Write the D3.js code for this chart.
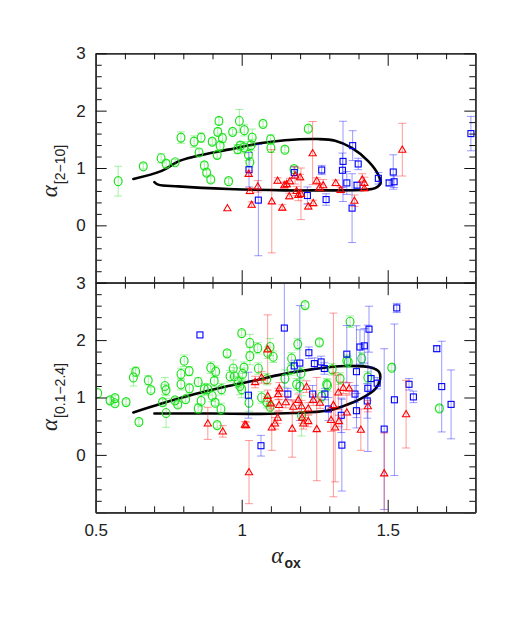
<!DOCTYPE html>
<html>
<head>
<meta charset="utf-8">
<script src="https://cdn.jsdelivr.net/npm/d3@7"></script>
<style>
  body { margin: 0; background: #fff; }
  svg { display: block; }
  .tick text { font-family: "Liberation Sans", Arial, sans-serif; font-size: 17px; fill: #222; }
</style>
</head>
<body>
<div id="chart"></div>
<script>

// [alpha_ox, alpha, error]
var topGreen = [
  [0.577,0.77,0.26],[0.663,1.03,0.05],[0.724,1.17,0.08],[0.741,1.075,0.06],[0.772,1.10,0.05],
  [0.792,1.53,0.1],[0.837,1.46,0.1],[0.861,1.53,0.08],[0.854,1.27,0.06],[0.872,1.045,0.06],
  [0.880,0.92,0.05],[0.894,0.80,0.05],[0.899,1.46,0.05],[0.922,1.82,0.06],[0.918,1.63,0.06],
  [0.934,1.52,0.08],[0.926,1.39,0.08],[0.916,1.23,0.06],[0.955,0.77,0.05],[0.969,1.63,0.05],
  [0.992,1.82,0.2],[1.009,1.66,0.1],[1.036,1.53,0.15],[0.995,1.39,0.06],[0.986,1.33,0.08],
  [1.008,1.36,0.1],[1.023,1.23,0.1],[1.028,1.10,0.08],[1.032,1.40,0.1],[1.073,1.77,0.05],
  [1.099,1.50,0.08],[1.100,1.35,0.08],[1.148,1.32,0.05],[1.228,1.685,0.05],[1.179,0.98,0.05]
];
var topBlue = [
  [1.025,0.97,0.3],[1.057,0.44,0.97],[1.180,0.92,0.1],[1.225,0.52,0.15],[1.274,0.965,0.08],
  [1.289,0.45,0.1],[1.347,1.115,0.7],[1.345,0.96,0.3],[1.360,0.74,0.2],[1.380,1.39,0.26],
  [1.378,0.30,0.6],[1.399,1.07,0.1],[1.395,0.70,0.05],[1.468,0.82,0.1],[1.505,0.74,0.05],
  [1.519,0.93,0.3],[1.522,0.76,0.1],[1.785,1.60,0.3]
];
var topRed = [
  [0.951,0.30,0],[1.024,0.90,0.05],[1.028,0.60,0.05],[1.034,0.36,0.05],[1.055,0.68,0.1],
  [1.103,0.42,0.9],[1.123,0.78,0.05],[1.139,0.31,0.05],[1.146,0.70,0.05],[1.243,1.26,0.55],
  [1.183,0.87,0.15],[1.200,0.84,0.05],[1.165,0.77,0.05],[1.154,0.72,0.05],[1.188,0.60,0.08],
  [1.194,0.53,0.1],[1.203,0.55,0.45],[1.163,0.51,0.05],[1.228,0.33,0.05],[1.245,0.39,0.05],
  [1.257,0.78,0.05],[1.266,0.66,0.05],[1.279,0.70,0.1],[1.322,0.74,0.05],[1.339,0.62,0.05],
  [1.386,0.43,0.1],[1.413,0.80,0.1],[1.420,0.74,0.1],[1.420,0.65,0.05],[1.550,1.32,0.46]
];
var topModel = [
  [0.629,0.81],[0.726,0.95],[0.783,1.115],[0.840,1.20],[0.954,1.32],[1.068,1.435],[1.148,1.485],
  [1.262,1.505],[1.320,1.475],[1.377,1.35],[1.434,1.115],[1.468,0.88],[1.476,0.74],[1.457,0.65],
  [1.422,0.62],[1.262,0.61],[1.148,0.61],[0.954,0.635],[0.783,0.68],[0.714,0.71],[0.701,0.755]
];

var botGreen = [
  [0.507,1.075,0],[0.549,0.95,0.05],[0.566,0.99,0.05],[0.566,0.90,0.05],[0.604,0.92,0.05],
  [0.629,1.35,0.15],[0.637,1.45,0.08],[0.648,0.575,0.05],[0.680,1.30,0.08],[0.689,1.13,0.05],
  [0.729,0.92,0.05],[0.737,1.20,0.15],[0.741,1.13,0.1],[0.741,0.73,0.25],[0.772,0.95,0.05],
  [0.781,0.88,0.05],[0.792,1.23,0.1],[0.792,1.41,0.1],[0.803,1.64,0.1],[0.820,1.46,0.08],
  [0.808,0.97,0.05],[0.821,1.16,0.08],[0.851,1.27,0.08],[0.851,0.81,0.08],[0.861,0.94,0.1],
  [0.872,1.145,0.1],[0.884,1.145,0.1],[0.894,1.52,0.1],[0.899,1.03,0.1],[0.906,1.29,0.1],
  [0.911,1.45,0.1],[0.909,0.91,0.05],[0.916,0.52,0.05],[0.929,0.80,0.1],[0.931,1.145,0.1],
  [0.950,1.77,0.05],[0.960,1.37,0.1],[0.971,1.505,0.15],[0.975,1.37,0.15],[0.988,1.27,0.1],
  [0.994,1.20,0.15],[1.000,2.12,0.05],[1.003,1.41,0.1],[1.008,1.52,0.1],[1.000,1.145,0.15],
  [1.028,1.95,0.15],[1.025,0.91,0.15],[1.028,1.72,0.15],[1.217,2.61,0.05],[1.055,1.86,0.1],
  [1.097,1.88,0.15],[1.108,1.71,0.1],[1.089,1.78,0.1],[1.057,1.505,0.1],[1.086,1.32,0.1],
  [1.192,1.93,0.1],[1.266,1.96,0.05],[1.371,2.32,0.1],[1.169,1.49,0.1],[1.148,1.33,0.15],
  [1.203,1.42,0.1],[1.188,1.23,0.1],[1.199,1.19,0.1],[1.068,1.00,0.1],[1.097,0.84,0.1],
  [1.086,0.92,0.1],[1.291,1.23,0.1],[1.310,1.49,0.1],[1.337,1.33,0.1],[1.360,1.64,0.1],
  [1.411,1.68,0.1],[1.432,1.35,0.1],[1.274,1.02,0.1],[1.205,0.68,0.35],[1.514,1.52,0.05],
  [1.677,0.81,0.05],[1.365,1.62,0.1],[1.294,1.21,0.1],[1.171,1.68,0.1]
];
var botBlue = [
  [0.857,2.09,0],[1.023,1.04,0.4],[1.066,0.16,0.18],[1.146,2.21,1.1],[1.230,1.78,0.1],
  [1.199,1.60,1.0],[1.180,1.55,0.1],[1.249,1.59,0.1],[1.272,1.62,0.1],[1.283,1.505,0.1],
  [1.158,1.06,0.1],[1.243,1.06,0.15],[1.285,1.06,0.1],[1.297,0.80,0.2],[1.343,0.17,0.8],
  [1.360,1.755,0.5],[1.393,1.45,0.8],[1.405,1.88,0.3],[1.420,1.90,0.3],[1.436,2.19,0.4],
  [1.443,1.33,0.2],[1.430,0.94,0.3],[1.341,0.69,0.3],[1.393,0.77,0.3],[1.432,1.16,1.1],
  [1.464,1.25,0.1],[1.388,1.06,0.15],[1.488,0.45,1.4],[1.523,0.96,1.32],[1.531,2.56,0.08],
  [1.573,1.23,0.1],[1.588,1.01,0.1],[1.668,1.85,0.05],[1.685,1.19,0.79],[1.717,0.88,0.6]
];
var botRed = [
  [0.884,0.55,0.28],[0.935,0.41,0.1],[1.011,0.53,0.05],[1.015,0.52,0.05],[1.025,-0.30,0.55],
  [1.089,1.84,0.6],[1.046,1.27,0.1],[1.068,1.35,0.1],[1.089,1.03,0.1],[1.100,0.90,0.1],
  [1.103,0.48,0.4],[1.114,0.55,0.1],[1.123,0.65,0.1],[1.128,0.87,0.1],[1.129,1.16,0.1],
  [1.125,1.06,0.1],[1.151,0.92,0.1],[1.177,0.84,0.1],[1.173,0.46,0.5],[1.194,0.96,0.1],
  [1.205,0.85,0.1],[1.207,0.65,0.1],[1.211,0.55,0.1],[1.222,1.19,0.1],[1.228,0.81,0.1],
  [1.228,0.59,0.1],[1.245,0.96,0.1],[1.257,0.45,0.9],[1.268,0.91,0.1],[1.306,0.61,0.2],
  [1.314,0.87,1.6],[1.320,0.48,0.95],[1.333,0.59,0.1],[1.331,1.09,0.3],[1.348,1.17,0.1],
  [1.360,0.74,0.3],[1.368,1.16,0.1],[1.408,0.44,0.36],[1.432,0.85,0.1],[1.488,-0.32,0.7],
  [1.563,0.71,0.59]
];
var botModel = [
  [0.629,0.74],[0.726,0.895],[0.840,1.06],[0.954,1.20],[1.040,1.29],[1.125,1.39],[1.240,1.49],
  [1.354,1.55],[1.445,1.52],[1.470,1.45],[1.474,1.32],[1.457,1.145],[1.405,0.97],[1.348,0.85],
  [1.291,0.77],[1.177,0.73],[1.063,0.715],[0.900,0.72],[0.701,0.72]
];

var xMajor = [0.5, 1, 1.5];
var yMajor = [-1, 0, 1, 2, 3];
var yLabels = [0, 1, 2, 3];

var width = 518, height = 627;
var left = 95.7, right = 475.3;
var panelTop = 53.3, panelMid = 282.7, panelBot = 512.3;

var svg = d3.select("#chart").append("svg")
    .attr("width", width)
    .attr("height", height);

var x = d3.scaleLinear().domain([0.5, 1.8]).range([left, right]);
var yTop = d3.scaleLinear().domain([-1, 3]).range([panelMid, panelTop]);
var yBot = d3.scaleLinear().domain([-1, 3]).range([panelBot, panelMid]);

var xMinor = d3.range(0.5, 1.801, 0.1).map(function (d) { return +d.toFixed(2); })
    .filter(function (d) { return xMajor.indexOf(d) < 0; });
var yMinor = d3.range(-1, 3.001, 0.2).map(function (d) { return +d.toFixed(2); })
    .filter(function (d) { return yMajor.indexOf(d) < 0; });

var green = "#1ee01e", blue = "#0000ff", red = "#ff0000";

function drawPanel(name, y, greens, blues, reds, model, showX) {
    var y0 = y.range()[0], y1 = y.range()[1];

    svg.append("clipPath").attr("id", "clip-" + name)
        .append("rect")
        .attr("x", left).attr("y", y1)
        .attr("width", right - left).attr("height", y0 - y1);

    var plot = svg.append("g").attr("clip-path", "url(#clip-" + name + ")");

    // model track
    plot.append("path")
        .datum(model)
        .attr("fill", "none")
        .attr("stroke", "#000")
        .attr("stroke-width", 2.6)
        .attr("stroke-linecap", "round")
        .attr("d", d3.line()
            .x(function (d) { return x(d[0]); })
            .y(function (d) { return y(d[1]); })
            .curve(d3.curveCatmullRom.alpha(0.5)));

    function errorBars(data, color) {
        var g = plot.append("g")
            .attr("stroke", color)
            .attr("stroke-opacity", 0.4)
            .attr("stroke-width", 1)
            .attr("fill", "none");
        var eb = g.selectAll("g").data(data.filter(function (d) { return d[2] > 0; }))
            .enter().append("g");
        eb.append("line")
            .attr("x1", function (d) { return x(d[0]); })
            .attr("x2", function (d) { return x(d[0]); })
            .attr("y1", function (d) { return y(d[1] - d[2]); })
            .attr("y2", function (d) { return y(d[1] + d[2]); });
        [-1, 1].forEach(function (s) {
            eb.append("line")
                .attr("x1", function (d) { return x(d[0]) - 4; })
                .attr("x2", function (d) { return x(d[0]) + 4; })
                .attr("y1", function (d) { return y(d[1] + s * d[2]); })
                .attr("y2", function (d) { return y(d[1] + s * d[2]); });
        });
    }

    errorBars(greens, green);
    plot.append("g").selectAll("ellipse").data(greens).enter().append("ellipse")
        .attr("cx", function (d) { return x(d[0]); })
        .attr("cy", function (d) { return y(d[1]); })
        .attr("rx", 3.9).attr("ry", 4.5)
        .attr("fill", "none").attr("stroke", green).attr("stroke-width", 1.2);

    errorBars(blues, blue);
    plot.append("g").selectAll("rect").data(blues).enter().append("rect")
        .attr("x", function (d) { return x(d[0]) - 3; })
        .attr("y", function (d) { return y(d[1]) - 3; })
        .attr("width", 6).attr("height", 6)
        .attr("fill", "none").attr("stroke", blue).attr("stroke-width", 1.1);

    errorBars(reds, red);
    plot.append("g").selectAll("path").data(reds).enter().append("path")
        .attr("d", function (d) {
            var cx = x(d[0]), cy = y(d[1]);
            return "M" + (cx - 3.6) + "," + (cy + 2.6) + "L" + (cx + 3.6) + "," + (cy + 2.6) +
                "L" + cx + "," + (cy - 3.6) + "Z";
        })
        .attr("fill", "none").attr("stroke", red).attr("stroke-width", 1.1);

    // frame with inward ticks: major and minor on all four sides
    var axes = svg.append("g").attr("class", "axes");
    function ax(gen, tx, ty, values, size, fmt) {
        var g = axes.append("g")
            .attr("transform", "translate(" + tx + "," + ty + ")")
            .call(gen.tickValues(values).tickSizeInner(size).tickSizeOuter(0)
                .tickFormat(fmt || "").tickPadding(fmt ? (gen === null ? 0 : 10) : 0));
        g.selectAll(".tick line").attr("stroke", "#111");
        g.select(".domain").attr("stroke", "#333").attr("stroke-width", 1.6);
        return g;
    }
    ax(d3.axisBottom(x), 0, y0, xMajor, -12.5);
    ax(d3.axisBottom(x), 0, y0, xMinor, -6);
    ax(d3.axisTop(x), 0, y1, xMajor, -12.5);
    ax(d3.axisTop(x), 0, y1, xMinor, -6);
    ax(d3.axisRight(y), right, 0, yMajor, -11);
    ax(d3.axisRight(y), right, 0, yMinor, -6);
    ax(d3.axisLeft(y), left, 0, yMinor, -6);
    var yl = ax(d3.axisLeft(y), left, 0, yMajor, -11, function (d) { return d >= 0 ? d : ""; });
    yl.selectAll(".tick text").attr("x", -10);

    if (showX) {
        var xl = ax(d3.axisBottom(x), 0, y0, xMajor, -12.5, function (d) { return d; });
        xl.selectAll(".tick text").attr("y", 12).attr("dy", "0.71em");
        xl.selectAll(".tick line").remove();
    }
}

drawPanel("top", yTop, topGreen, topBlue, topRed, topModel, false);
drawPanel("bot", yBot, botGreen, botBlue, botRed, botModel, true);

// axis titles
function alphaLabel(g, sub, subSize, subDy) {
    var t = g.append("text").attr("fill", "#222");
    t.append("tspan")
        .attr("font-family", "'Liberation Serif', 'DejaVu Serif', serif")
        .attr("font-style", "italic")
        .attr("font-size", 23)
        .text("α");
    t.append("tspan")
        .attr("font-family", "'Liberation Sans', Arial, sans-serif")
        .attr("font-size", subSize)
        .attr("dx", 1)
        .attr("dy", subDy)
        .text(sub);
    return t;
}

alphaLabel(svg.append("g").attr("transform", "translate(57,171) rotate(-90)"), "[2\u221210]", 14, 8)
    .attr("text-anchor", "middle");
alphaLabel(svg.append("g").attr("transform", "translate(57,397) rotate(-90)"), "[0.1\u22122.4]", 14, 8)
    .attr("text-anchor", "middle");
alphaLabel(svg.append("g").attr("transform", "translate(286,563)"), "ox", 14, 5)
    .attr("text-anchor", "middle")
    .select("tspan:last-child").attr("font-weight", "bold");

</script>
</body>
</html>
